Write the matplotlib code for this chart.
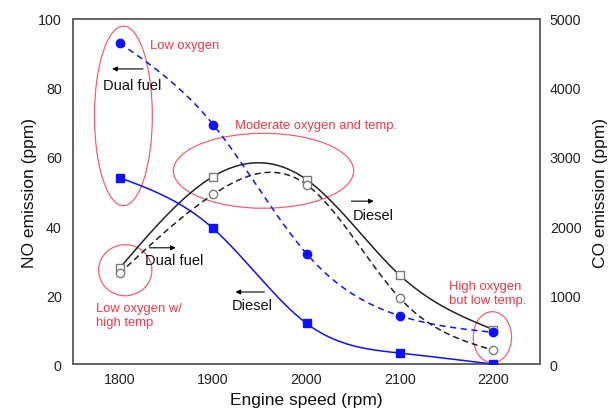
import numpy as np
import matplotlib
matplotlib.use("Agg")
import matplotlib.pyplot as plt
from matplotlib.patches import Ellipse

plt.rcParams['font.family'] = ['Liberation Sans', 'DejaVu Sans']

speed = [1800, 1900, 2000, 2100, 2200]
no_dual = [93, 69.4, 32, 14, 9.2]
no_diesel = [54, 39.3, 11.8, 3.2, 0.0]
co_diesel = [1390, 2717, 2673, 1286, 500]
co_dual = [1315, 2457, 2600, 954, 202]

x_ticks = [1800, 1900, 2000, 2100, 2200]
y_left_ticks = [0, 20, 40, 60, 80, 100]
y_right_ticks = [0, 1000, 2000, 3000, 4000, 5000]


def natural_spline(x, y, n=200):
    x = np.asarray(x, float)
    y = np.asarray(y, float)
    k = len(x)
    h = np.diff(x)
    A = np.zeros((k, k))
    b = np.zeros(k)
    A[0, 0] = 1
    A[-1, -1] = 1
    for i in range(1, k - 1):
        A[i, i - 1] = h[i - 1]
        A[i, i] = 2 * (h[i - 1] + h[i])
        A[i, i + 1] = h[i]
        b[i] = 6 * ((y[i + 1] - y[i]) / h[i] - (y[i] - y[i - 1]) / h[i - 1])
    M = np.linalg.solve(A, b)
    xs = np.linspace(x[0], x[-1], n)
    ys = np.empty_like(xs)
    for j, xv in enumerate(xs):
        i = min(np.searchsorted(x, xv, side='right') - 1, k - 2)
        t1 = x[i + 1] - xv
        t0 = xv - x[i]
        ys[j] = (M[i] * t1 ** 3 / (6 * h[i]) + M[i + 1] * t0 ** 3 / (6 * h[i])
                 + (y[i] / h[i] - M[i] * h[i] / 6) * t1
                 + (y[i + 1] / h[i] - M[i + 1] * h[i] / 6) * t0)
    return xs, ys


fig = plt.figure(figsize=(6.13, 4.14), dpi=100)
ax = fig.add_axes([0.119, 0.118, 0.762, 0.834])
ax2 = ax.twinx()

blue = '#1010ff'
dark = '#222222'
grey = '#7a7a7a'
red = '#f03848'
red_ell = '#f06070'

# CO curves (right axis)
xs, ys = natural_spline(speed, co_diesel)
ax2.plot(xs, ys, color=dark, lw=1.1, zorder=2)
ax2.plot(speed, co_diesel, ls='none', marker='s', ms=6, mfc='white', mec=grey, mew=1.0, zorder=3)
xs, ys = natural_spline(speed, co_dual)
ax2.plot(xs, ys, color=dark, lw=1.1, ls=(0, (4, 2.5)), zorder=2)
ax2.plot(speed, co_dual, ls='none', marker='o', ms=6, mfc='white', mec=grey, mew=1.0, zorder=3)

# NO curves (left-axis units, drawn on ax2 scaled by 50)
xs, ys = natural_spline(speed, no_dual)
ax2.plot(xs, np.array(ys) * 50, color=blue, lw=1.1, ls=(0, (4, 3)), zorder=4)
ax2.plot(speed, np.array(no_dual) * 50, ls='none', marker='o', ms=6, color=blue, zorder=5)
xs, ys = natural_spline(speed, no_diesel)
ax2.plot(xs, np.array(ys) * 50, color=blue, lw=1.1, zorder=4)
ax2.plot(speed, np.array(no_diesel) * 50, ls='none', marker='s', ms=5.5, color=blue, zorder=5)

ax.set_xlim(1750, 2250)
ax.set_ylim(0, 100)
ax2.set_ylim(0, 5000)
ax.set_xticks(x_ticks)
ax.set_yticks(y_left_ticks)
ax2.set_yticks(y_right_ticks)
ax.tick_params(length=0, labelsize=10.3, pad=8, colors='#222222')
ax2.tick_params(length=0, labelsize=10.3, pad=7, colors='#222222')
ax.tick_params(axis='x', pad=6)
for a in (ax, ax2):
    for s in a.spines.values():
        s.set_color('#666666')
        s.set_linewidth(1.3)

ax.set_xlabel('Engine speed (rpm)', fontsize=12.5, labelpad=4, color='#111111')
ax.set_ylabel('NO emission (ppm)', fontsize=12.5, labelpad=1, color='#111111')
ax2.set_ylabel('CO emission (ppm)', fontsize=12.5, labelpad=8, color='#111111')

# ellipses (left-axis units * 50)
ells = [(1804, 71.9, 62, 52), (1954, 56, 193, 21.7), (1806, 27.2, 57, 14.8), (2199, 7.8, 41, 14.8)]
for cx, cy, w, h in ells:
    ax2.add_patch(Ellipse((cx, cy * 50), w, h * 50, fill=False, ec=red_ell, lw=0.9, zorder=1))

rfs = 9.4
ax2.text(1832, 92.5 * 50, 'Low oxygen', color=red, fontsize=rfs, va='center')
ax2.text(1923, 69.3 * 50, 'Moderate oxygen and temp.', color=red, fontsize=rfs, va='center')
ax2.text(1775, 14.2 * 50, 'Low oxygen w/\nhigh temp', color=red, fontsize=rfs, va='center',
         linespacing=1.2)
ax2.text(2153, 20.5 * 50, 'High oxygen\nbut low temp.', color=red, fontsize=rfs, va='center',
         linespacing=1.2)

bfs = 10.5
ap = dict(arrowstyle='-|>', color='black', lw=0.8, mutation_scale=7, shrinkA=0, shrinkB=0)
ax2.text(1782, 80.9 * 50, 'Dual fuel', fontsize=bfs, va='center', color='#111111', zorder=6)
ax2.annotate('', xy=(1792, 85.5 * 50), xytext=(1825, 85.5 * 50), arrowprops=ap, zorder=6)
ax2.text(1827, 30.1 * 50, 'Dual fuel', fontsize=bfs, va='center', color='#111111', zorder=6)
ax2.annotate('', xy=(1860, 33.7 * 50), xytext=(1832, 33.7 * 50), arrowprops=ap, zorder=6)
ax2.text(1920, 17.1 * 50, 'Diesel', fontsize=bfs, va='center', color='#111111', zorder=6)
ax2.annotate('', xy=(1924, 20.9 * 50), xytext=(1955, 20.9 * 50), arrowprops=ap, zorder=6)
ax2.text(2049, 43.2 * 50, 'Diesel', fontsize=bfs, va='center', color='#111111', zorder=6)
ax2.annotate('', xy=(2072, 47.2 * 50), xytext=(2048, 47.2 * 50), arrowprops=ap, zorder=6)

fig.savefig('out.png', dpi=100)
